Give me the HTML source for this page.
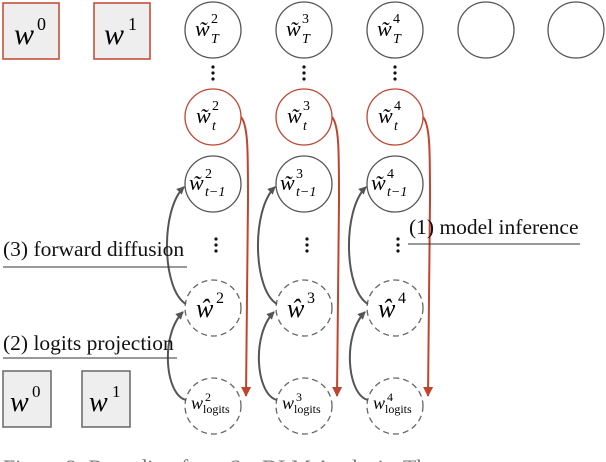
<!DOCTYPE html>
<html><head><style>
body{margin:0;background:#fff;width:606px;height:462px;overflow:hidden;}
svg{display:block}
text{font-family:"Liberation Serif",serif;}
</style></head><body>
<svg width="606" height="462" viewBox="0 0 606 462" xmlns="http://www.w3.org/2000/svg">
<defs>
<marker id="ag" markerWidth="8" markerHeight="8" refX="7" refY="4" orient="auto" markerUnits="userSpaceOnUse"><path d="M0,0 L8,4 L0,8 z" fill="#555"/></marker>
<marker id="ar" markerWidth="10" markerHeight="12" refX="9" refY="5" orient="auto" markerUnits="userSpaceOnUse"><path d="M0,0 L10,5 L0,10 z" fill="#c0452f"/></marker>
</defs>
<rect x="3" y="3" width="56" height="56" fill="#eee" stroke="#c0452f" stroke-width="1.5"/>
<rect x="94" y="3" width="56" height="56" fill="#eee" stroke="#c0452f" stroke-width="1.5"/>
<text x="14" y="44" font-size="30" font-style="italic">w</text><text x="37" y="30" font-size="18">0</text>
<text x="104" y="44" font-size="30" font-style="italic">w</text><text x="128" y="30" font-size="18">1</text>
<rect x="3" y="371" width="48" height="56" fill="#eee" stroke="#666" stroke-width="1.5"/>
<rect x="82" y="371" width="48" height="56" fill="#eee" stroke="#666" stroke-width="1.5"/>
<text x="10" y="411" font-size="28" font-style="italic">w</text><text x="32" y="397" font-size="17">0</text>
<text x="89" y="411" font-size="28" font-style="italic">w</text><text x="112" y="397" font-size="17">1</text>

<g fill="none" stroke-width="1.3">
<circle cx="213" cy="30" r="28" stroke="#555"/>
<circle cx="304" cy="30" r="28" stroke="#555"/>
<circle cx="395" cy="30" r="28" stroke="#555"/>
<circle cx="486" cy="30" r="28" stroke="#555"/>
<circle cx="576" cy="30" r="28" stroke="#555"/>
<circle cx="213" cy="117" r="28" stroke="#c0452f"/>
<circle cx="304" cy="117" r="28" stroke="#c0452f"/>
<circle cx="395" cy="117" r="28" stroke="#c0452f"/>
<circle cx="213" cy="184" r="28" stroke="#555"/>
<circle cx="304" cy="184" r="28" stroke="#555"/>
<circle cx="395" cy="184" r="28" stroke="#555"/>
<g stroke="#666" stroke-dasharray="6,4">
<circle cx="213" cy="308" r="28"/><circle cx="304" cy="308" r="28"/><circle cx="395" cy="308" r="28"/>
<circle cx="213" cy="406" r="28"/><circle cx="304" cy="406" r="28"/><circle cx="395" cy="406" r="28"/>
</g>
</g>
<g fill="#111">
<circle cx="213" cy="67" r="1.6"/><circle cx="213" cy="73" r="1.6"/><circle cx="213" cy="79" r="1.6"/>
<circle cx="304" cy="67" r="1.6"/><circle cx="304" cy="73" r="1.6"/><circle cx="304" cy="79" r="1.6"/>
<circle cx="395" cy="67" r="1.6"/><circle cx="395" cy="73" r="1.6"/><circle cx="395" cy="79" r="1.6"/>
<circle cx="216" cy="239" r="1.6"/><circle cx="216" cy="245" r="1.6"/><circle cx="216" cy="251" r="1.6"/>
<circle cx="307" cy="239" r="1.6"/><circle cx="307" cy="245" r="1.6"/><circle cx="307" cy="251" r="1.6"/>
<circle cx="398" cy="239" r="1.6"/><circle cx="398" cy="245" r="1.6"/><circle cx="398" cy="251" r="1.6"/>
</g>
<g font-size="22" font-style="italic">
<text x="196" y="123">w̃</text><text x="212" y="110" font-size="14" font-style="normal">2</text><text x="212" y="130" font-size="14">t</text>
<text x="287" y="123">w̃</text><text x="303" y="110" font-size="14" font-style="normal">3</text><text x="303" y="130" font-size="14">t</text>
<text x="378" y="123">w̃</text><text x="394" y="110" font-size="14" font-style="normal">4</text><text x="394" y="130" font-size="14">t</text>
<text x="195" y="36">w̃</text><text x="211" y="23" font-size="14" font-style="normal">2</text><text x="211" y="43" font-size="14">T</text>
<text x="286" y="36">w̃</text><text x="302" y="23" font-size="14" font-style="normal">3</text><text x="302" y="43" font-size="14">T</text>
<text x="377" y="36">w̃</text><text x="393" y="23" font-size="14" font-style="normal">4</text><text x="393" y="43" font-size="14">T</text>
<text x="189" y="190">w̃</text><text x="205" y="178" font-size="14" font-style="normal">2</text><text x="205" y="196" font-size="14">t−1</text>
<text x="280" y="190">w̃</text><text x="296" y="178" font-size="14" font-style="normal">3</text><text x="296" y="196" font-size="14">t−1</text>
<text x="371" y="190">w̃</text><text x="387" y="178" font-size="14" font-style="normal">4</text><text x="387" y="196" font-size="14">t−1</text>
<text x="196" y="317" font-size="26">ŵ</text><text x="216" y="303" font-size="16" font-style="normal">2</text>
<text x="287" y="317" font-size="26">ŵ</text><text x="307" y="303" font-size="16" font-style="normal">3</text>
<text x="378" y="317" font-size="26">ŵ</text><text x="398" y="303" font-size="16" font-style="normal">4</text>
<text x="191" y="409" font-size="18">w</text><text x="205" y="401" font-size="12" font-style="normal">2</text><text x="203" y="413" font-size="12" font-style="normal">logits</text>
<text x="282" y="409" font-size="18">w</text><text x="296" y="401" font-size="12" font-style="normal">3</text><text x="294" y="413" font-size="12" font-style="normal">logits</text>
<text x="373" y="409" font-size="18">w</text><text x="387" y="401" font-size="12" font-style="normal">4</text><text x="385" y="413" font-size="12" font-style="normal">logits</text>
</g>
<g fill="none" stroke="#555" stroke-width="2" marker-end="url(#ag)">
<path d="M186,400 C165,395 160,335 183,312"/>
<path d="M186,304 C162,290 160,210 184,187"/>
<path d="M277,400 C256,395 251,335 274,312"/>
<path d="M277,304 C253,290 251,210 275,187"/>
<path d="M368,400 C347,395 342,335 365,312"/>
<path d="M368,304 C344,290 342,210 366,187"/>
</g>
<g fill="none" stroke="#c0452f" stroke-width="2" marker-end="url(#ar)">
<path d="M241,117 C248,125 248,150 248,200 L246,396"/>
<path d="M332,117 C339,125 339,150 339,200 L337,396"/>
<path d="M423,117 C430,125 430,150 430,200 L428,396"/>
</g>
<g font-size="21.5" fill="#111">
<text x="3" y="256">(3) forward diffusion</text>
<text x="3" y="350">(2) logits projection</text>
<text x="409" y="234">(1) model inference</text>
</g>
<g stroke="#333" stroke-width="1">
<line x1="3" y1="267" x2="187" y2="267"/>
<line x1="3" y1="358" x2="177" y2="358"/>
<line x1="408" y1="244" x2="580" y2="244"/>
</g>
<text x="3" y="475" font-size="22" fill="#777">Figure 2: Rounding from SeqDLM Analysis. The</text>
</svg>
</body></html>
